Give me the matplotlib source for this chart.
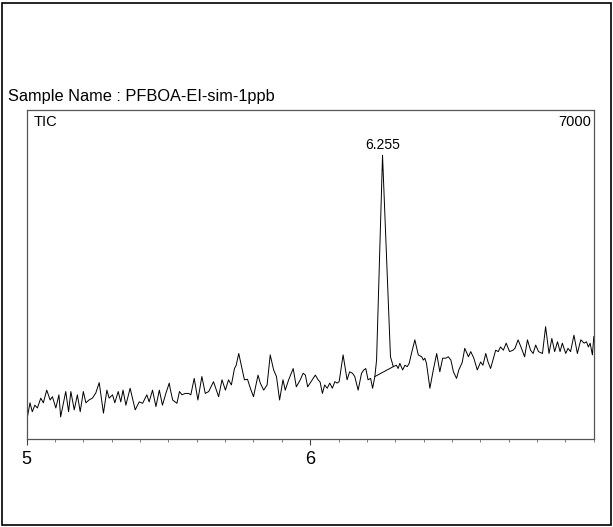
import matplotlib
matplotlib.use("Agg")
import matplotlib.pyplot as plt
from matplotlib.patches import Rectangle
from matplotlib.ticker import MultipleLocator

plt.rcParams['font.family'] = ['Liberation Sans', 'DejaVu Sans']

sample_name = "Sample Name : PFBOA-EI-sim-1ppb"
trace_label = "TIC"
y_full_scale = 7000
peak_rt = 6.255
peak_label = "6.255"
x_ticks = [5, 6]

rt = [5.002, 5.012, 5.020, 5.029, 5.038, 5.050, 5.059, 5.071, 5.083, 5.091,
      5.103, 5.114, 5.120, 5.138, 5.148, 5.156, 5.168, 5.179, 5.189, 5.200,
      5.209, 5.220, 5.232, 5.244, 5.256, 5.271, 5.283, 5.291, 5.303, 5.311,
      5.323, 5.332, 5.340, 5.350, 5.365, 5.383, 5.397, 5.409, 5.424, 5.432,
      5.444, 5.456, 5.468, 5.479, 5.491, 5.503, 5.506, 5.515, 5.530, 5.539,
      5.548, 5.559, 5.571, 5.579, 5.591, 5.604, 5.618, 5.630, 5.642, 5.659,
      5.677, 5.689, 5.701, 5.712, 5.722, 5.733, 5.739, 5.748, 5.757, 5.768,
      5.779, 5.789, 5.800, 5.816, 5.824, 5.836, 5.848, 5.859, 5.871, 5.881,
      5.892, 5.904, 5.912, 5.924, 5.940, 5.951, 5.965, 5.975, 5.983, 5.991,
      6.007, 6.018, 6.028, 6.035, 6.043, 6.051, 6.060, 6.069, 6.078, 6.087,
      6.095, 6.102, 6.116, 6.130, 6.139, 6.149, 6.157, 6.169, 6.181, 6.189,
      6.196, 6.204, 6.213, 6.220, 6.228, 6.234, 6.255, 6.283, 6.293, 6.304,
      6.310, 6.316, 6.326, 6.334, 6.342, 6.349, 6.357, 6.369, 6.381, 6.393,
      6.399, 6.404, 6.410, 6.422, 6.434, 6.446, 6.457, 6.467, 6.478, 6.487,
      6.496, 6.505, 6.516, 6.524, 6.536, 6.545, 6.558, 6.566, 6.577, 6.589,
      6.601, 6.609, 6.619, 6.627, 6.636, 6.654, 6.663, 6.671, 6.681, 6.691,
      6.703, 6.715, 6.722, 6.733, 6.745, 6.756, 6.766, 6.777, 6.786, 6.795,
      6.805, 6.819, 6.830, 6.842, 6.852, 6.862, 6.872, 6.881, 6.889, 6.901,
      6.909, 6.918, 6.930, 6.942, 6.954, 6.966, 6.974, 6.981, 6.987, 6.995,
      7.000]

intensity = [440, 770, 580, 720, 660, 870, 770, 1040, 830, 900,
             660, 940, 470, 1010, 580, 1010, 620, 940, 580, 1010,
             770, 830, 870, 980, 1200, 550, 1040, 870, 940, 770,
             1010, 790, 1040, 720, 1080, 620, 790, 760, 940, 790,
             1040, 690, 1040, 720, 970, 1190, 1080, 830, 760, 1010,
             940, 970, 970, 940, 1290, 830, 1330, 970, 1010, 1220,
             900, 1260, 1040, 1260, 1150, 1500, 1570, 1820, 1570, 1260,
             1270, 1080, 900, 1360, 1190, 1040, 1150, 1790, 1470, 1330,
             830, 1260, 1040, 1260, 1500, 1110, 1260, 1400, 1360, 1110,
             1260, 1360, 1260, 1210, 970, 1150, 1080, 1190, 1080, 1220,
             1190, 1220, 1790, 1260, 1430, 1400, 1330, 1040, 1400, 1470,
             1500, 1260, 1290, 1080, 1330, 1680, 6040, 1750, 1540, 1570,
             1500, 1610, 1470, 1570, 1540, 1610, 1820, 2110, 1790, 1750,
             1680, 1720, 1610, 1080, 1470, 1820, 1430, 1720, 1720, 1750,
             1680, 1430, 1290, 1470, 1630, 1930, 1750, 1860, 1720, 1470,
             1640, 1570, 1820, 1640, 1500, 1890, 1860, 1960, 1890, 2040,
             1860, 1890, 1930, 2110, 1930, 1750, 2110, 1890, 1820, 2000,
             1860, 1820, 2390, 1820, 2140, 1860, 2070, 1860, 2040, 1820,
             1930, 1860, 2210, 1820, 2110, 2040, 2070, 1960, 2040, 1790,
             2180]

baseline_rt = [6.228, 6.293]
baseline_int = [1330, 1540]

fig = plt.figure(figsize=(6.13, 5.27), dpi=100)
ax = fig.add_axes([0.0434, 0.167, 0.9253, 0.624])

ax.plot(rt, intensity, color='black', lw=0.7, solid_joinstyle='round')
ax.plot(baseline_rt, baseline_int, color='black', lw=0.7)

ax.set_xlim(5, 7)
ax.set_ylim(0, y_full_scale)
ax.set_yticks([])
ax.set_xticks(x_ticks)
ax.set_xticklabels([str(t) for t in x_ticks], fontsize=13)
ax.xaxis.set_minor_locator(MultipleLocator(0.1))
ax.tick_params(axis='x', which='major', length=4, width=0.8, color='#444444', pad=5)
ax.tick_params(axis='x', which='minor', length=2.5, width=0.6, color='#666666')
for s in ax.spines.values():
    s.set_color('#555555')
    s.set_linewidth(0.9)

ax.text(0.012, 0.985, trace_label, transform=ax.transAxes, ha='left', va='top', fontsize=10.5)
ax.text(0.996, 0.985, str(y_full_scale), transform=ax.transAxes, ha='right', va='top', fontsize=10.5)
peak_idx = rt.index(peak_rt)
ax.annotate(peak_label, xy=(peak_rt, intensity[peak_idx]), xytext=(0, 2),
            textcoords='offset points', ha='center', va='bottom', fontsize=10)

fig.text(8 / 613, 1 - 96 / 527, sample_name, ha='left', va='center', fontsize=11.8)

fig.patches.append(Rectangle((2 / 613, 2 / 527), 609 / 613, 522 / 527,
                             transform=fig.transFigure, fill=False,
                             edgecolor='black', lw=1.2))

fig.savefig("out.png", dpi=100)
